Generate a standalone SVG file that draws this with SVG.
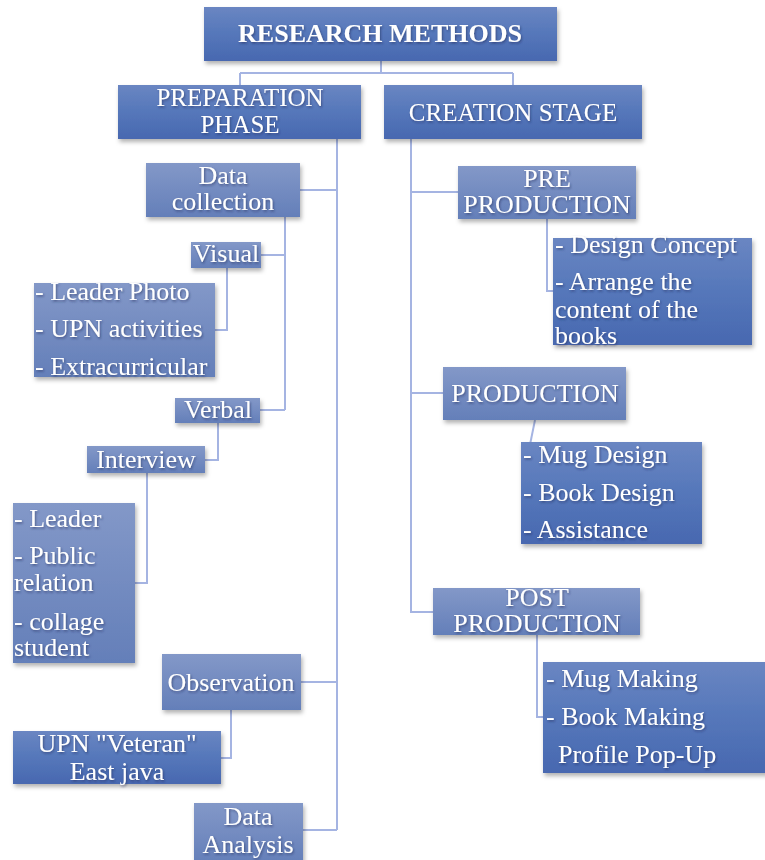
<svg xmlns="http://www.w3.org/2000/svg" width="765" height="860" viewBox="0 0 765 860">
<defs>
<linearGradient id="gDark" x1="0" y1="0" x2="0" y2="1">
<stop offset="0" stop-color="#6a86c2"/>
<stop offset="0.5" stop-color="#5577ba"/>
<stop offset="1" stop-color="#4868b0"/>
</linearGradient>
<linearGradient id="gLight" x1="0" y1="0" x2="0" y2="1">
<stop offset="0" stop-color="#8398c8"/>
<stop offset="1" stop-color="#647fb9"/>
</linearGradient>
<filter id="bs" x="-10%" y="-10%" width="125%" height="135%">
<feDropShadow dx="1.5" dy="3" stdDeviation="2" flood-color="#000" flood-opacity="0.3"/>
</filter>
<filter id="ts" x="-5%" y="-20%" width="110%" height="150%">
<feDropShadow dx="1" dy="1.5" stdDeviation="1" flood-color="#1b2b55" flood-opacity="0.55"/>
</filter>
</defs>
<style>
.dark{fill:url(#gDark);filter:url(#bs);}
.light{fill:url(#gLight);filter:url(#bs);}
text{font-family:"Liberation Serif","Times New Roman",serif;fill:#fff;font-size:26px;filter:url(#ts);}
.c{text-anchor:middle;}
.h{font-size:25px;}
.b{font-weight:bold;}
.conn{fill:none;stroke:#a5b4e2;stroke-width:2;}
</style>
<rect width="765" height="860" fill="#fff"/>
<g id="connectors" class="conn">
<path d="M381,61 V73 M240,73 H513 M240,73 V85 M513,73 V85"/>
<path d="M337,139 V830 M300,190 H337 M301,682 H337 M303,830 H337"/>
<path d="M285,217 V410 M261,255 H285 M260,410 H285"/>
<path d="M227,268 V330 H215"/>
<path d="M218,423 V460 H205"/>
<path d="M147,473 V583 H135"/>
<path d="M231,710 V758 H221"/>
<path d="M411,139 V612 H433 M411,192 H458 M411,393 H443"/>
<path d="M547,219 V291 H553"/>
<path d="M535,420 L522,484"/>
<path d="M537,635 V717 H543"/>
</g>
<g id="root"><rect class="dark" x="204" y="7" width="353" height="54"/><text class="c b" x="380" y="42">RESEARCH METHODS</text></g>
<g id="prep"><rect class="dark" x="118" y="85" width="243" height="54"/><text class="c h" x="240" y="106">PREPARATION</text><text class="c h" x="240" y="133">PHASE</text></g>
<g id="creation"><rect class="dark" x="384" y="85" width="258" height="54"/><text class="c h" x="513" y="121">CREATION STAGE</text></g>
<g id="datacollection"><rect class="light" x="146" y="163" width="154" height="54"/><text class="c" x="223" y="184">Data</text><text class="c" x="223" y="210">collection</text></g>
<g id="visual"><rect class="light" x="191" y="242" width="70" height="26"/><text class="c" x="226" y="262">Visual</text></g>
<g id="visualitems"><rect class="light" x="34" y="283" width="181" height="94"/><text x="35" y="300">- Leader Photo</text><text x="35" y="337">- UPN activities</text><text x="35" y="375">- Extracurricular</text></g>
<g id="verbal"><rect class="light" x="175" y="398" width="85" height="25"/><text class="c" x="218" y="418">Verbal</text></g>
<g id="interview"><rect class="light" x="87" y="446" width="118" height="27"/><text class="c" x="146" y="468">Interview</text></g>
<g id="interviewitems"><rect class="light" x="13" y="503" width="122" height="160"/><text x="14" y="527">- Leader</text><text x="14" y="564">- Public</text><text x="14" y="591">relation</text><text x="14" y="630">- collage</text><text x="14" y="656">student</text></g>
<g id="observation"><rect class="light" x="162" y="654" width="139" height="56"/><text class="c" x="231" y="691">Observation</text></g>
<g id="upn"><rect class="dark" x="13" y="731" width="208" height="53"/><text class="c" x="117" y="752">UPN "Veteran"</text><text class="c" x="117" y="780">East java</text></g>
<g id="dataanalysis"><rect class="light" x="194" y="803" width="109" height="60"/><text class="c" x="248" y="825">Data</text><text class="c" x="248" y="853">Analysis</text></g>
<g id="preproduction"><rect class="light" x="458" y="166" width="178" height="53"/><text class="c" x="547" y="187">PRE</text><text class="c" x="547" y="213">PRODUCTION</text></g>
<g id="preitems"><rect class="dark" x="553" y="238" width="199" height="107"/><text x="555" y="253">- Design Concept</text><text x="555" y="290">- Arrange the</text><text x="555" y="318">content of the</text><text x="555" y="344">books</text></g>
<g id="production"><rect class="light" x="443" y="367" width="183" height="53"/><text class="c" x="535" y="402">PRODUCTION</text></g>
<g id="productionitems"><rect class="dark" x="521" y="442" width="181" height="102"/><text x="523" y="463">- Mug Design</text><text x="523" y="501">- Book Design</text><text x="523" y="538">- Assistance</text></g>
<g id="postproduction"><rect class="light" x="433" y="588" width="207" height="47"/><text class="c" x="537" y="606">POST</text><text class="c" x="537" y="632">PRODUCTION</text></g>
<g id="postitems"><rect class="dark" x="543" y="662" width="225" height="111"/><text x="546" y="687">- Mug Making</text><text x="546" y="725">- Book Making</text><text x="558" y="763">Profile Pop-Up</text></g>
</svg>
